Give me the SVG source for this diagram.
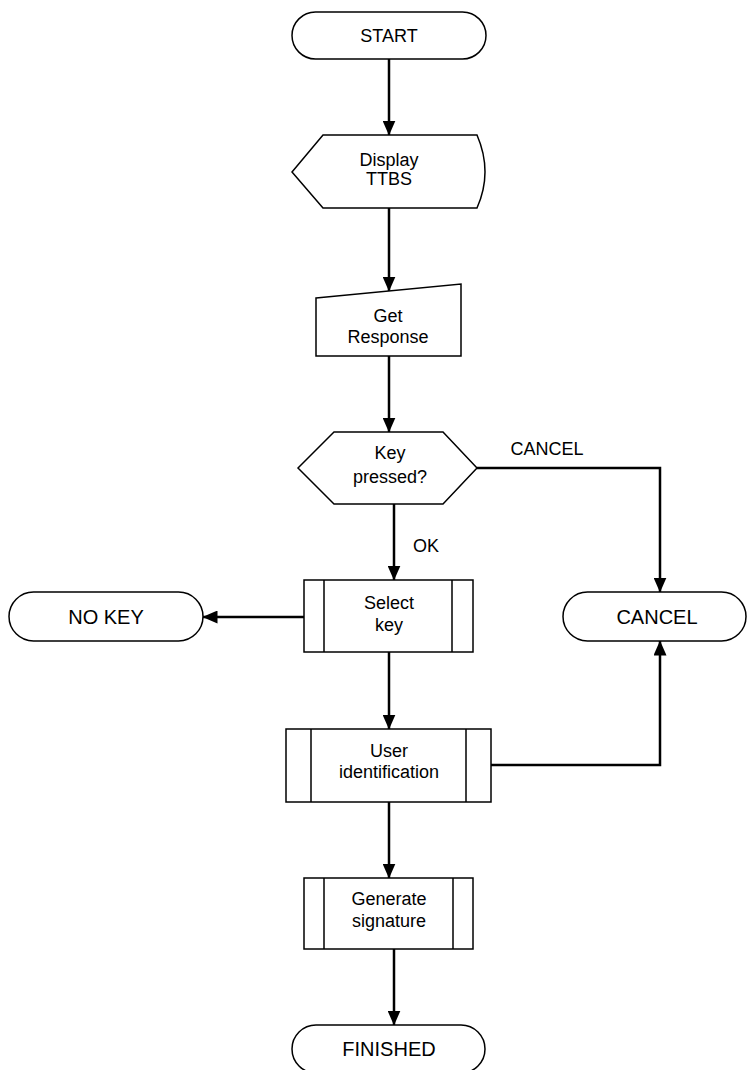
<svg xmlns="http://www.w3.org/2000/svg" width="748" height="1070" viewBox="0 0 748 1070">
<style>
.s{fill:#fff;stroke:#000;stroke-width:1.5}
.c{fill:none;stroke:#000;stroke-width:2.5}
.t{font-family:"Liberation Sans",Arial,sans-serif;font-size:18px;fill:#000;text-anchor:middle}
.b{font-size:20px}
</style>
<defs>
<marker id="a" markerWidth="15" markerHeight="13" refX="14.5" refY="6.5" orient="auto" markerUnits="userSpaceOnUse" viewBox="0 0 15 13">
<path d="M0,0 L15,6.5 L0,13 Z" fill="#000"/>
</marker>
</defs>
<rect width="748" height="1070" fill="#fff"/>
<g id="connectors">
<path class="c" d="M389,59 V135" marker-end="url(#a)"/>
<path class="c" d="M389,208 V291" marker-end="url(#a)"/>
<path class="c" d="M389,356 V432" marker-end="url(#a)"/>
<path class="c" d="M477,468 H660 V592" marker-end="url(#a)"/>
<path class="c" d="M394,504 V580" marker-end="url(#a)"/>
<path class="c" d="M304,617 H203" marker-end="url(#a)"/>
<path class="c" d="M389,652 V729" marker-end="url(#a)"/>
<path class="c" d="M491,765 H660 V641" marker-end="url(#a)"/>
<path class="c" d="M389,802 V878" marker-end="url(#a)"/>
<path class="c" d="M394,949 V1025" marker-end="url(#a)"/>
<text class="t" x="547" y="455">CANCEL</text>
<text class="t" x="426" y="552">OK</text>
</g>
<g id="start">
<rect class="s" x="292" y="12" width="194" height="47" rx="23.5"/>
<text class="t" x="389" y="42">START</text>
</g>
<g id="display">
<path class="s" d="M292,172 L323,135 L477,135 Q493,172 477,208 L323,208 Z"/>
<text class="t" x="389" y="166">Display</text>
<text class="t" x="389" y="185">TTBS</text>
</g>
<g id="getresponse">
<path class="s" d="M316,298 L461,284 L461,356 L316,356 Z"/>
<text class="t" x="388" y="322">Get</text>
<text class="t" x="388" y="343">Response</text>
</g>
<g id="decision">
<path class="s" d="M298,468 L334,432 L443,432 L477,468 L443,504 L334,504 Z"/>
<text class="t" x="390" y="459">Key</text>
<text class="t" x="390" y="483">pressed?</text>
</g>
<g id="selectkey">
<rect class="s" x="304" y="580" width="169" height="72"/>
<path class="s" d="M324,580 V652 M452,580 V652"/>
<text class="t" x="389" y="609">Select</text>
<text class="t" x="389" y="631">key</text>
</g>
<g id="nokey">
<rect class="s" x="9" y="592" width="194" height="49" rx="24.5"/>
<text class="t b" x="106" y="624">NO KEY</text>
</g>
<g id="cancel">
<rect class="s" x="563" y="592" width="183" height="49" rx="24.5"/>
<text class="t b" x="657" y="624">CANCEL</text>
</g>
<g id="useridentification">
<rect class="s" x="286" y="729" width="205" height="73"/>
<path class="s" d="M311,729 V802 M466,729 V802"/>
<text class="t" x="389" y="757">User</text>
<text class="t" x="389" y="778">identification</text>
</g>
<g id="generatesignature">
<rect class="s" x="304" y="878" width="169" height="71"/>
<path class="s" d="M324,878 V949 M453,878 V949"/>
<text class="t" x="389" y="905">Generate</text>
<text class="t" x="389" y="927">signature</text>
</g>
<g id="finished">
<rect class="s" x="292" y="1025" width="193" height="48" rx="24"/>
<text class="t b" x="389" y="1056">FINISHED</text>
</g>
</svg>
